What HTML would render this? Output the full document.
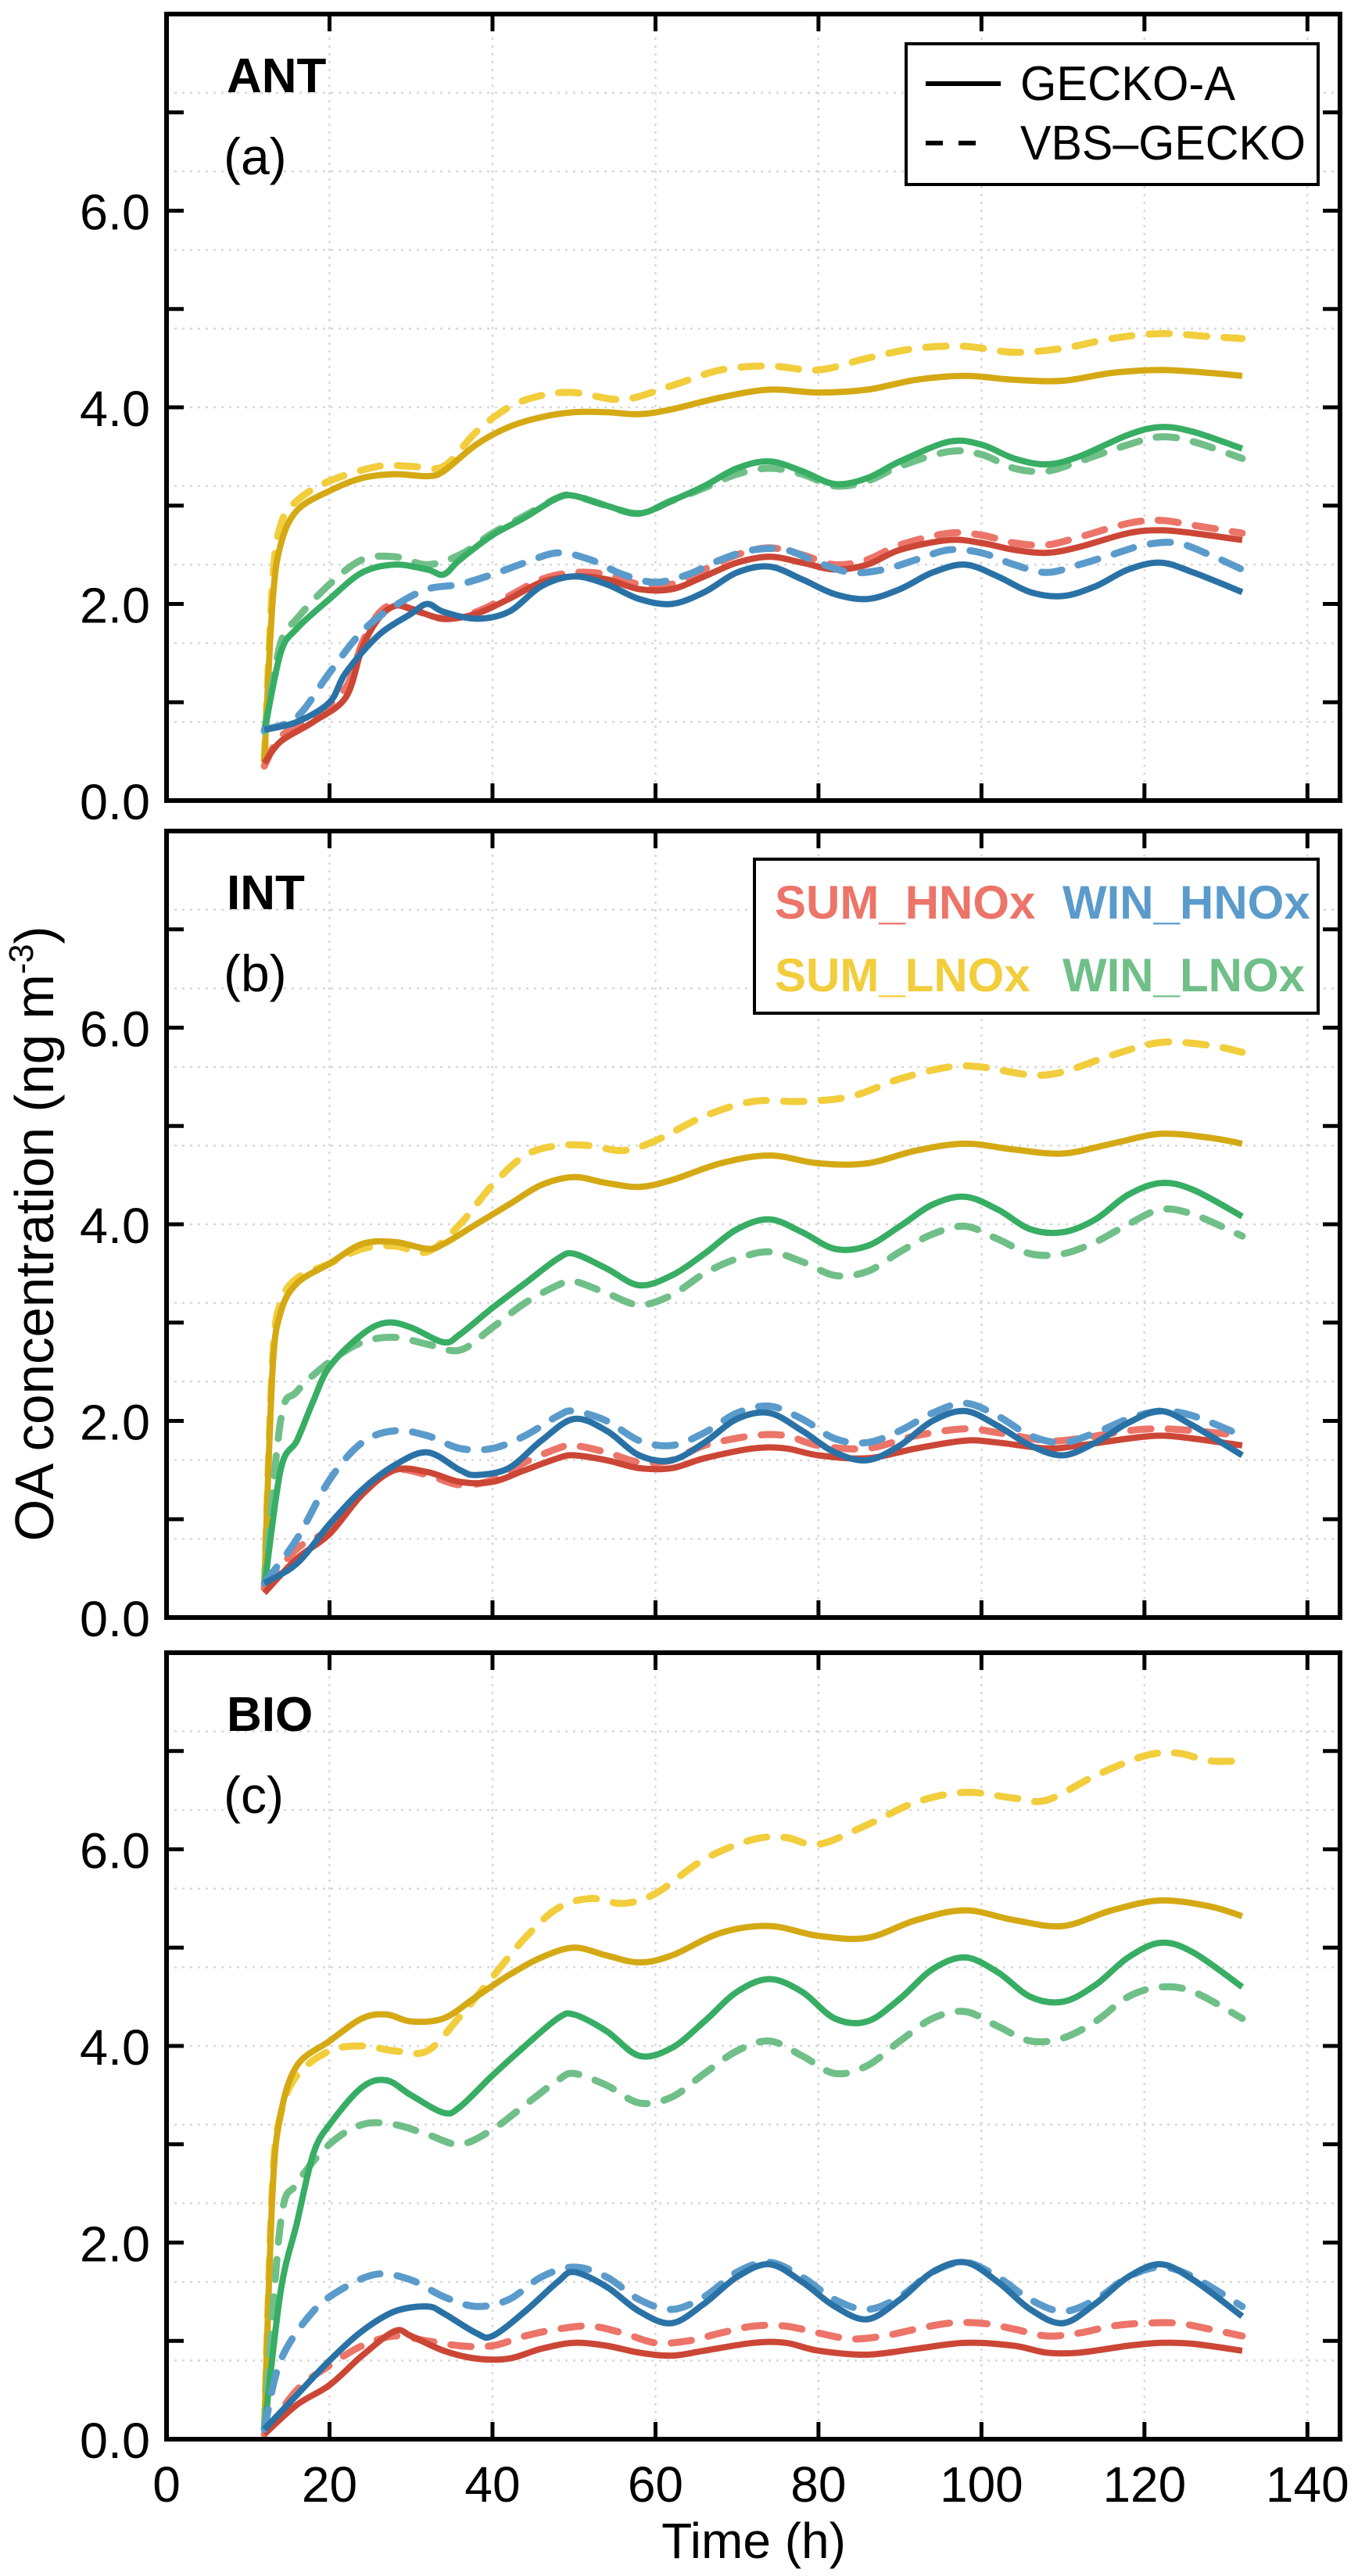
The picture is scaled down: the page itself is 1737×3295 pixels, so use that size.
<!DOCTYPE html>
<html><head><meta charset="utf-8"><style>
html,body{margin:0;padding:0;background:#fff;}
svg{display:block;font-family:"Liberation Sans",sans-serif;}
</style></head><body>
<svg id="chart" width="1737" height="3295" viewBox="0 0 1737 3295" xmlns="http://www.w3.org/2000/svg">
<rect width="1737" height="3295" fill="#fff"/>
<g id="layer"></g>
<text transform="translate(68,1578) rotate(-90)" text-anchor="middle" font-size="70" textLength="787" lengthAdjust="spacingAndGlyphs">OA concentration (ng m<tspan font-size="44" dy="-26">-3</tspan><tspan dy="26">)</tspan></text>
<text x="964" y="3272" text-anchor="middle" font-size="64">Time (h)</text>
</svg>
<script>
const xTicks=[0,20,40,60,80,100,120,140];
const yTicks=[0,2,4,6];
const yTickLabels=["0.0","2.0","4.0","6.0"];
const panelNames=["ANT","INT","BIO"];
const panelLetters=["(a)","(b)","(c)"];
const seriesNames=["SUM_HNOx","WIN_HNOx","SUM_LNOx","WIN_LNOx"];
// panel a
const aSumLSolidT=[12,13,14,16,20,24,28,32,34,38,42,46,50,54,58,62,68,74,80,86,92,98,104,110,116,122,128,132];
const aSumLSolidV=[0.4,2.0,2.6,2.95,3.15,3.28,3.32,3.3,3.35,3.62,3.8,3.9,3.95,3.95,3.93,3.98,4.1,4.18,4.15,4.18,4.28,4.32,4.28,4.27,4.35,4.38,4.35,4.32];
const aSumLDashT=[12,13,14,16,20,26,30,34,38,42,46,50,56,62,68,74,80,86,92,98,104,110,116,122,128,132];
const aSumLDashV=[0.4,2.2,2.8,3.05,3.25,3.4,3.4,3.4,3.75,4.0,4.12,4.15,4.08,4.22,4.38,4.42,4.38,4.5,4.6,4.62,4.56,4.6,4.7,4.75,4.72,4.7];
const aWinLSolidT=[12,14,16,20,24,28,32,34,36,40,44,48,50,54,58,62,66,70,74,78,82,86,90,96,100,104,108,112,118,122,126,132];
const aWinLSolidV=[0.7,1.5,1.75,2.05,2.32,2.4,2.35,2.3,2.45,2.7,2.88,3.08,3.1,3.0,2.92,3.05,3.2,3.38,3.45,3.35,3.22,3.28,3.45,3.65,3.62,3.48,3.42,3.5,3.72,3.8,3.75,3.58];
const aWinLDashT=[12,14,16,20,24,28,32,36,40,44,48,50,54,58,62,66,70,74,78,82,86,90,96,100,104,108,112,118,122,126,132];
const aWinLDashV=[0.7,1.6,1.85,2.2,2.45,2.48,2.4,2.5,2.72,2.9,3.08,3.1,3.0,2.92,3.05,3.18,3.32,3.38,3.32,3.2,3.25,3.4,3.55,3.52,3.38,3.35,3.45,3.62,3.7,3.65,3.48];
const aSumHSolidT=[12,14,18,22,24,26,28,30,34,38,42,46,50,54,58,62,66,70,74,78,82,86,90,96,100,104,108,112,118,122,126,132];
const aSumHSolidV=[0.38,0.6,0.8,1.05,1.55,1.85,1.98,1.95,1.85,1.9,2.05,2.22,2.28,2.25,2.15,2.15,2.28,2.42,2.48,2.42,2.35,2.4,2.55,2.65,2.62,2.55,2.52,2.58,2.72,2.75,2.72,2.65];
const aSumHDashT=aSumHSolidT;
const aSumHDashV=[0.35,0.65,0.85,1.15,1.6,1.9,2.0,1.95,1.85,1.92,2.08,2.25,2.32,2.3,2.2,2.2,2.35,2.5,2.57,2.5,2.4,2.45,2.6,2.72,2.7,2.62,2.6,2.68,2.82,2.85,2.8,2.72];
const aWinHSolidT=[12,16,20,22,26,30,32,34,38,42,46,50,54,58,62,66,70,74,78,82,86,90,94,98,102,106,110,114,118,122,126,132];
const aWinHSolidV=[0.72,0.8,1.0,1.3,1.68,1.9,2.0,1.92,1.85,1.92,2.18,2.28,2.2,2.05,2.0,2.12,2.32,2.38,2.25,2.1,2.05,2.15,2.32,2.4,2.28,2.12,2.08,2.18,2.35,2.42,2.32,2.12];
const aWinHDashT=[12,16,20,24,28,32,36,40,44,48,52,56,60,64,68,72,76,80,84,88,92,96,100,104,108,112,116,120,124,128,132];
const aWinHDashV=[0.72,0.85,1.3,1.72,1.98,2.15,2.2,2.3,2.42,2.52,2.45,2.3,2.22,2.3,2.45,2.55,2.55,2.42,2.32,2.35,2.45,2.55,2.52,2.4,2.32,2.4,2.5,2.6,2.62,2.5,2.35];
// panel b
const bSumLSolidT=[12,13,14,16,20,24,28,32,34,38,42,46,50,54,58,62,68,74,80,86,92,98,104,110,116,122,128,132];
const bSumLSolidV=[0.3,2.5,3.1,3.4,3.6,3.8,3.82,3.75,3.8,4.0,4.2,4.4,4.48,4.42,4.38,4.45,4.62,4.7,4.62,4.62,4.75,4.82,4.76,4.72,4.82,4.92,4.88,4.82];
const bSumLDashT=[12,13,14,16,20,24,28,32,36,40,44,48,52,56,60,66,72,78,84,90,96,100,106,110,116,122,128,132];
const bSumLDashV=[0.3,2.6,3.2,3.45,3.6,3.75,3.78,3.72,4.0,4.4,4.7,4.8,4.8,4.75,4.85,5.1,5.25,5.25,5.3,5.48,5.6,5.6,5.52,5.55,5.72,5.85,5.82,5.75];
const bWinLSolidT=[12,14,16,18,20,24,27,30,34,36,40,44,48,50,54,58,62,66,70,74,78,82,86,90,94,98,102,106,110,114,118,122,126,132];
const bWinLSolidV=[0.3,1.5,1.8,2.2,2.55,2.88,3.0,2.95,2.8,2.88,3.15,3.4,3.65,3.7,3.55,3.38,3.48,3.7,3.95,4.05,3.92,3.75,3.78,3.98,4.2,4.28,4.15,3.95,3.92,4.05,4.3,4.42,4.35,4.08];
const bWinLDashT=[12,14,16,20,24,28,32,36,40,44,48,50,54,58,62,66,70,74,78,82,86,90,94,98,102,106,110,114,118,122,126,132];
const bWinLDashV=[0.3,2.0,2.3,2.6,2.8,2.85,2.78,2.72,2.95,3.2,3.38,3.42,3.3,3.18,3.28,3.5,3.65,3.72,3.62,3.48,3.52,3.72,3.9,3.98,3.85,3.7,3.7,3.82,4.0,4.15,4.1,3.88];
const bSumHSolidT=[12,16,20,24,28,32,36,40,44,48,50,54,58,62,66,72,76,80,86,92,98,102,108,112,118,122,126,132];
const bSumHSolidV=[0.25,0.6,0.85,1.25,1.5,1.48,1.38,1.38,1.5,1.62,1.65,1.6,1.52,1.52,1.62,1.72,1.72,1.65,1.62,1.72,1.8,1.78,1.72,1.75,1.82,1.85,1.82,1.75];
const bSumHDashT=bSumHSolidT;
const bSumHDashV=[0.3,0.7,0.9,1.3,1.5,1.45,1.35,1.4,1.58,1.72,1.75,1.68,1.58,1.6,1.75,1.85,1.85,1.75,1.72,1.85,1.92,1.88,1.8,1.82,1.9,1.92,1.9,1.85];
const bWinHSolidT=[12,16,20,24,28,32,36,38,42,46,50,54,58,62,66,70,74,78,82,86,90,94,98,102,106,110,114,118,122,126,132];
const bWinHSolidV=[0.35,0.55,0.95,1.3,1.55,1.68,1.5,1.45,1.52,1.8,2.02,1.9,1.65,1.6,1.78,2.02,2.08,1.9,1.68,1.6,1.75,2.0,2.1,1.95,1.75,1.65,1.78,1.98,2.1,1.95,1.65];
const bWinHDashT=[12,16,20,24,28,32,36,40,44,48,50,54,58,62,66,70,74,78,82,86,90,94,98,102,106,110,114,118,122,126,132];
const bWinHDashV=[0.35,0.8,1.4,1.78,1.9,1.85,1.72,1.72,1.85,2.05,2.1,2.0,1.8,1.75,1.88,2.08,2.15,2.02,1.82,1.78,1.9,2.08,2.18,2.05,1.85,1.78,1.88,2.02,2.1,2.05,1.85];
// panel c
const cSumLSolidT=[12,13,14,16,20,24,27,30,34,38,42,46,50,54,58,62,68,74,80,86,92,98,104,110,116,122,128,132];
const cSumLSolidV=[0.1,2.5,3.3,3.8,4.05,4.28,4.32,4.25,4.28,4.5,4.72,4.9,5.0,4.92,4.85,4.92,5.15,5.22,5.12,5.1,5.28,5.38,5.28,5.22,5.38,5.48,5.42,5.32];
const cSumLDashT=[12,13,14,16,20,24,28,32,36,40,44,48,52,56,60,66,72,76,80,86,92,98,104,108,114,120,124,128,132];
const cSumLDashV=[0.1,2.6,3.3,3.7,3.95,4.0,3.95,3.95,4.3,4.7,5.1,5.4,5.5,5.45,5.55,5.9,6.1,6.12,6.05,6.25,6.48,6.58,6.52,6.5,6.75,6.95,6.98,6.9,6.9];
const cWinLSolidT=[12,14,16,18,20,24,27,30,34,36,40,44,48,50,54,58,62,66,70,74,78,82,86,90,94,98,102,106,110,114,118,122,126,132];
const cWinLSolidV=[0.1,1.5,2.2,2.9,3.2,3.58,3.65,3.5,3.32,3.38,3.7,4.0,4.28,4.32,4.15,3.9,3.98,4.25,4.55,4.68,4.55,4.28,4.25,4.48,4.78,4.9,4.75,4.5,4.45,4.62,4.9,5.05,4.95,4.6];
const cWinLDashT=[12,14,16,20,24,28,32,36,40,44,48,50,54,58,62,66,70,74,78,82,86,90,94,98,102,106,110,114,118,122,126,132];
const cWinLDashV=[0.1,2.2,2.6,3.0,3.2,3.2,3.1,3.0,3.15,3.4,3.65,3.72,3.6,3.42,3.48,3.72,3.95,4.05,3.9,3.72,3.8,4.05,4.28,4.35,4.2,4.05,4.08,4.25,4.5,4.6,4.55,4.28];
const cSumHSolidT=[12,16,20,24,28,30,34,38,42,46,50,54,58,62,66,72,76,80,86,92,98,104,108,112,118,122,126,132];
const cSumHSolidV=[0.05,0.35,0.55,0.85,1.1,1.05,0.9,0.82,0.82,0.92,0.98,0.95,0.88,0.85,0.9,0.98,0.98,0.9,0.86,0.92,0.98,0.95,0.88,0.88,0.95,0.98,0.97,0.9];
const cSumHDashT=[12,16,20,24,28,32,36,40,44,48,52,56,60,64,68,72,76,80,84,88,92,96,100,104,108,112,116,120,124,128,132];
const cSumHDashV=[0.05,0.5,0.75,0.95,1.05,1.0,0.95,0.95,1.05,1.12,1.15,1.08,0.98,1.0,1.08,1.15,1.15,1.08,1.02,1.05,1.12,1.18,1.18,1.12,1.05,1.08,1.15,1.18,1.18,1.12,1.05];
const cWinHSolidT=[12,16,20,24,28,32,34,38,40,44,48,50,54,58,62,66,70,74,78,82,86,90,94,98,102,106,110,114,118,122,126,132];
const cWinHSolidV=[0.1,0.45,0.8,1.1,1.3,1.35,1.28,1.08,1.05,1.3,1.6,1.7,1.55,1.3,1.18,1.38,1.65,1.78,1.6,1.35,1.22,1.42,1.7,1.8,1.6,1.32,1.18,1.38,1.65,1.78,1.62,1.25];
const cWinHDashT=[12,14,18,22,26,30,34,38,42,46,50,54,58,62,66,70,74,78,82,86,90,94,98,102,106,110,114,118,122,126,132];
const cWinHDashV=[0.1,0.8,1.3,1.55,1.68,1.62,1.45,1.35,1.42,1.65,1.75,1.65,1.42,1.32,1.45,1.7,1.8,1.65,1.42,1.32,1.45,1.7,1.8,1.65,1.42,1.3,1.42,1.65,1.75,1.65,1.35];

const NS="http://www.w3.org/2000/svg";
const layer=document.getElementById('layer');
const X0=213,X1=1714,XMAX=144;
const panelTops=[18,1063,2114],PH=1006,YMAX=8;
function mk(tag,attrs,parent){const e=document.createElementNS(NS,tag);for(const k in attrs)e.setAttribute(k,attrs[k]);(parent||layer).appendChild(e);return e;}
function xs(t){return X0+(t/XMAX)*(X1-X0);}
function ysF(p){return v=>panelTops[p]+PH-(v/YMAX)*PH;}
function pathD(T,V,ys){
  const P=T.map((t,i)=>[xs(t),ys(V[i])]);
  let d=`M${P[0][0].toFixed(1)},${P[0][1].toFixed(1)}`;
  for(let i=0;i<P.length-1;i++){
    const p0=P[Math.max(0,i-1)],p1=P[i],p2=P[i+1],p3=P[Math.min(P.length-1,i+2)];
    const c1=[p1[0]+(p2[0]-p0[0])/6,p1[1]+(p2[1]-p0[1])/6];
    const c2=[p2[0]-(p3[0]-p1[0])/6,p2[1]-(p3[1]-p1[1])/6];
    d+=`C${c1[0].toFixed(1)},${c1[1].toFixed(1)} ${c2[0].toFixed(1)},${c2[1].toFixed(1)} ${p2[0].toFixed(1)},${p2[1].toFixed(1)}`;
  }
  return d;
}
const solidCol={SUM_HNOx:"#cc4636",WIN_HNOx:"#2a72a6",SUM_LNOx:"#d4a914",WIN_LNOx:"#38ad64"};
const dashCol={SUM_HNOx:"#ec7468",WIN_HNOx:"#5a9bcb",SUM_LNOx:"#f2cd3c",WIN_LNOx:"#70bf88"};
const panelSeries=[
 [["SUM_LNOx",aSumLDashT,aSumLDashV,aSumLSolidT,aSumLSolidV],["WIN_LNOx",aWinLDashT,aWinLDashV,aWinLSolidT,aWinLSolidV],["SUM_HNOx",aSumHDashT,aSumHDashV,aSumHSolidT,aSumHSolidV],["WIN_HNOx",aWinHDashT,aWinHDashV,aWinHSolidT,aWinHSolidV]],
 [["SUM_LNOx",bSumLDashT,bSumLDashV,bSumLSolidT,bSumLSolidV],["WIN_LNOx",bWinLDashT,bWinLDashV,bWinLSolidT,bWinLSolidV],["SUM_HNOx",bSumHDashT,bSumHDashV,bSumHSolidT,bSumHSolidV],["WIN_HNOx",bWinHDashT,bWinHDashV,bWinHSolidT,bWinHSolidV]],
 [["SUM_LNOx",cSumLDashT,cSumLDashV,cSumLSolidT,cSumLSolidV],["WIN_LNOx",cWinLDashT,cWinLDashV,cWinLSolidT,cWinLSolidV],["SUM_HNOx",cSumHDashT,cSumHDashV,cSumHSolidT,cSumHSolidV],["WIN_HNOx",cWinHDashT,cWinHDashV,cWinHSolidT,cWinHSolidV]]
];
for(let p=0;p<3;p++){
  const ys=ysF(p),top=panelTops[p],bot=top+PH;
  const g=mk('g',{});
  
  
  for(let v=0.8;v<YMAX-0.1;v+=0.8){const l=mk('line',{x1:X0,x2:X1,y1:ys(v),y2:ys(v),stroke:"#d8d8d8","stroke-width":2.5,"stroke-dasharray":"3 7"},g);
    }
  for(const t of xTicks){if(t===0)continue;const l=mk('line',{x1:xs(t),x2:xs(t),y1:top,y2:bot,stroke:"#d8d8d8","stroke-width":2.5,"stroke-dasharray":"3 7"},g);
    }
  for(const s of panelSeries[p]){
    const dl=mk('path',{d:pathD(s[1],s[2],ys),fill:"none",stroke:dashCol[s[0]],"stroke-width":9,"stroke-dasharray":"26 22","stroke-linecap":"round"},g);
    
    
    const sl=mk('path',{d:pathD(s[3],s[4],ys),fill:"none",stroke:solidCol[s[0]],"stroke-width":8},g);
    
    
  }
  const fr=mk('rect',{x:X0,y:top,width:X1-X0,height:PH,fill:"none",stroke:"#000","stroke-width":6},g);
  
  for(const t of xTicks){if(t===0)continue;
    mk('line',{x1:xs(t),x2:xs(t),y1:bot,y2:bot-22,stroke:"#000","stroke-width":5},g);
    mk('line',{x1:xs(t),x2:xs(t),y1:top,y2:top+22,stroke:"#000","stroke-width":5},g);}
  for(let v=1;v<YMAX;v++){
    mk('line',{x1:X0,x2:X0+22,y1:ys(v),y2:ys(v),stroke:"#000","stroke-width":5},g);
    mk('line',{x1:X1,x2:X1-22,y1:ys(v),y2:ys(v),stroke:"#000","stroke-width":5},g);}
  yTicks.forEach((v,i)=>{const tl=mk('text',{x:192,y:ys(v)+24,"text-anchor":"end","font-size":64,textLength:90,lengthAdjust:"spacingAndGlyphs"},g);
    tl.textContent=yTickLabels[i];
    });
  const pn=mk('text',{x:290,y:top+100,"font-size":62,"font-weight":"bold"},g);pn.textContent=panelNames[p];
  
  const pl=mk('text',{x:286,y:top+205,"font-size":66},g);pl.textContent=panelLetters[p];
  
}
for(const t of xTicks){const tl=mk('text',{x:xs(t),y:3200,"text-anchor":"middle","font-size":64});tl.textContent=String(t);
  }
const lg=mk('g',{});

mk('rect',{x:1159,y:56,width:527,height:180,fill:"#fff",stroke:"#000","stroke-width":4},lg);
mk('line',{x1:1184,x2:1280,y1:107,y2:107,stroke:"#000","stroke-width":6},lg);
mk('line',{x1:1184,x2:1260,y1:183,y2:183,stroke:"#000","stroke-width":6,"stroke-dasharray":"22 20"},lg);
const l1=mk('text',{x:1305,y:128,"font-size":62,textLength:275,lengthAdjust:"spacingAndGlyphs"},lg);l1.textContent="GECKO-A";

const l2=mk('text',{x:1305,y:204,"font-size":62,textLength:365,lengthAdjust:"spacingAndGlyphs"},lg);l2.textContent="VBS\u2013GECKO";

const lb=mk('g',{});

mk('rect',{x:965,y:1099,width:721,height:197,fill:"#fff",stroke:"#000","stroke-width":4},lb);
const legPos=[[991,1175],[1359,1175],[991,1268],[1359,1268]];
const legOrder=["SUM_HNOx","WIN_HNOx","SUM_LNOx","WIN_LNOx"];
legOrder.forEach((n,i)=>{const t=mk('text',{x:legPos[i][0],y:legPos[i][1],"font-size":60,"font-weight":"bold",fill:dashCol[n]},lb);t.textContent=n;
  });
</script>
</body></html>
